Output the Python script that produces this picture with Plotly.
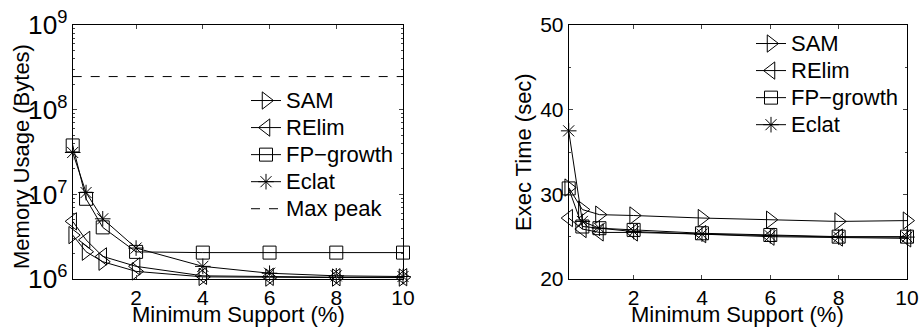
import plotly.graph_objects as go

support = [0.1, 0.5, 1, 2, 4, 6, 8, 10]

# Memory usage (bytes)
mem_sam = [3.3e6, 2.1e6, 1.6e6, 1.23e6, 1.06e6, 1.04e6, 1.04e6, 1.04e6]
mem_relim = [4.8e6, 2.9e6, 1.85e6, 1.41e6, 1.09e6, 1.06e6, 1.05e6, 1.05e6]
mem_fp = [3.78e7, 8.86e6, 4.07e6, 2.09e6, 2.05e6, 2.05e6, 2.05e6, 2.05e6]
mem_eclat = [3.12e7, 1.05e7, 5.14e6, 2.32e6, 1.41e6, 1.17e6, 1.09e6, 1.07e6]
max_peak = 2.46e8

# Exec time (sec)
time_sam = [30.8, 28.2, 27.6, 27.5, 27.2, 27.0, 26.8, 26.9]
time_relim = [27.2, 25.9, 25.5, 25.5, 25.3, 25.0, 24.9, 24.8]
time_fp = [30.7, 26.2, 26.0, 25.8, 25.4, 25.2, 25.0, 25.0]
time_eclat = [37.5, 26.8, 26.0, 25.6, 25.3, 25.1, 24.95, 24.95]

names = ["SAM", "RElim", "FP\u2212growth", "Eclat"]
symbols = ["triangle-right-open", "triangle-left-open", "square-open", "asterisk-open"]
sizes = [15, 15, 13, 13]

FONT = "Liberation Sans, Arial, sans-serif"
LEG_TXT = '<span style="font-size:22px">{}</span>'

fig = go.Figure()

for name, sym, sz, ys in zip(names, symbols, sizes, [mem_sam, mem_relim, mem_fp, mem_eclat]):
    fig.add_trace(go.Scatter(
        x=support, y=ys, name=LEG_TXT.format(name), mode="lines+markers",
        line=dict(color="black", width=1), cliponaxis=False,
        marker=dict(symbol=sym, size=sz, color="black", line=dict(width=1, color="black")),
        xaxis="x", yaxis="y", legend="legend"))
fig.add_trace(go.Scatter(
    x=[support[0], support[-1]], y=[max_peak, max_peak], name=LEG_TXT.format("Max peak"),
    mode="lines", line=dict(color="black", width=1, dash="dash"),
    xaxis="x", yaxis="y", legend="legend"))

for name, sym, sz, ys in zip(names, symbols, sizes, [time_sam, time_relim, time_fp, time_eclat]):
    fig.add_trace(go.Scatter(
        x=support, y=ys, name=LEG_TXT.format(name), mode="lines+markers",
        line=dict(color="black", width=1), cliponaxis=False,
        marker=dict(symbol=sym, size=sz, color="black", line=dict(width=1, color="black")),
        xaxis="x2", yaxis="y2", legend="legend2"))

H = 327.0
W = 922.0
ydom = [1 - 279 / H, 1 - 25 / H]

tick_font = dict(size=21, family=FONT, color="black")
title_font = dict(size=22, family=FONT, color="black")

common_x = dict(
    range=[0.1, 10], tickvals=[2, 4, 6, 8, 10], ticks="inside", ticklen=4,
    showline=True, linecolor="black", linewidth=1, mirror="allticks",
    showgrid=False, zeroline=False, tickfont=tick_font,
    automargin=False,
)

fig.update_layout(
    width=922, height=327,
    margin=dict(l=0, r=0, t=0, b=0, autoexpand=False),
    paper_bgcolor="white", plot_bgcolor="white",
    font=dict(family=FONT, color="black"),
    xaxis=dict(domain=[72.7 / W, 403 / W], anchor="y", **common_x),
    yaxis=dict(domain=ydom, anchor="x", type="log", range=[6, 9], dtick=1,
               exponentformat="power", ticks="inside", ticklen=4,
               minor=dict(ticks="inside", ticklen=2, showgrid=False),
               showline=True, linecolor="black", linewidth=1, mirror="allticks",
               showgrid=False, zeroline=False, automargin=False,
               tickfont=tick_font),
    xaxis2=dict(domain=[568.7 / W, 907 / W], anchor="y2", **common_x),
    yaxis2=dict(domain=ydom, anchor="x2", range=[20, 50], tickvals=[20, 30, 40, 50],
                ticks="inside", ticklen=4,
                minor=dict(ticks="inside", ticklen=2, dtick=5, showgrid=False),
                showline=True, linecolor="black", linewidth=1, mirror="allticks",
                showgrid=False, zeroline=False, automargin=False,
                tickfont=tick_font),
    legend=dict(x=246 / W, y=1 - 82 / H, xanchor="left", yanchor="top",
                bgcolor="rgba(0,0,0,0)", font=dict(size=18.5, family=FONT),
                tracegroupgap=0, itemwidth=30),
    legend2=dict(x=751 / W, y=1 - 25 / H, xanchor="left", yanchor="top",
                 bgcolor="rgba(0,0,0,0)", font=dict(size=18.5, family=FONT),
                 tracegroupgap=0, itemwidth=30),
    showlegend=True,
    annotations=[
        dict(text="Memory Usage (Bytes)", x=22 / W, y=1 - 157 / H, xref="paper", yref="paper",
             xanchor="center", yanchor="middle",
             textangle=-90, showarrow=False, font=title_font),
        dict(text="Minimum Support (%)", x=238 / W, y=1 - 314 / H, xref="paper", yref="paper",
             xanchor="center", yanchor="middle",
             showarrow=False, font=title_font),
        dict(text="Exec Time (sec)", x=524 / W, y=1 - 152 / H, xref="paper", yref="paper",
             xanchor="center", yanchor="middle",
             textangle=-90, showarrow=False, font=title_font),
        dict(text="Minimum Support (%)", x=737 / W, y=1 - 314 / H, xref="paper", yref="paper",
             xanchor="center", yanchor="middle",
             showarrow=False, font=title_font),
    ],
)

fig.write_html("out.html", config={"displayModeBar": False},
               post_script="document.body.style.margin='0';")
